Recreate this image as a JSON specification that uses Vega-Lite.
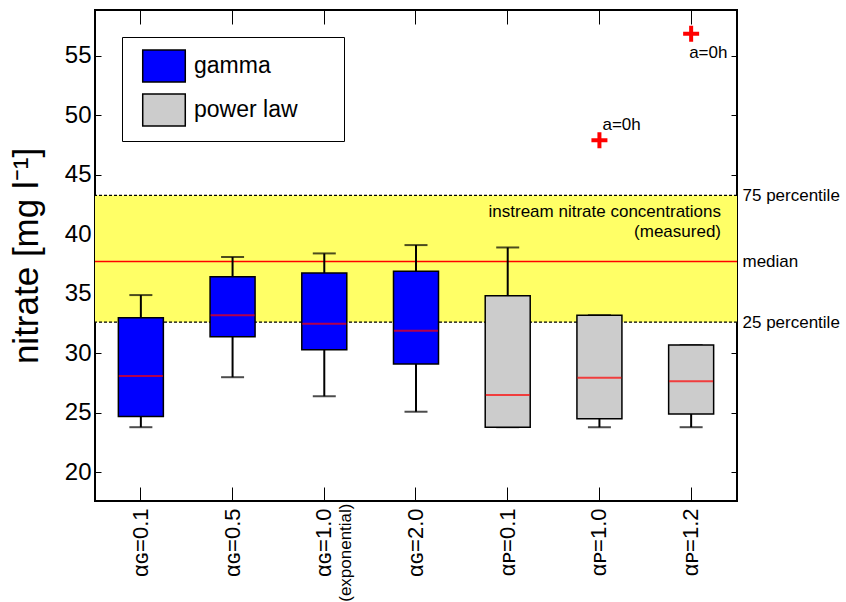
{
  "$schema": "https://vega.github.io/schema/vega-lite/v6.json",
  "autosize": {"type": "none"},
  "width": 642,
  "height": 491,
  "padding": {"left": 95, "top": 10, "right": 109, "bottom": 101},
  "background": "white",
  "config": {
    "view": {"stroke": "black", "strokeWidth": 2},
    "font": "Liberation Sans",
    "axis": {"domain": false, "grid": false, "labelColor": "black", "tickColor": "black", "titleColor": "black", "labelFont": "Liberation Sans", "titleFont": "Liberation Sans", "titleFontWeight": "normal", "labelOverlap": false, "labelBound": false, "labelFlush": false},
    "legend": {"labelFont": "Liberation Sans", "labelColor": "black"}
  },
  "datasets": {
    "boxes": [
      {"cat": "αɢ=0.1", "family": "gamma", "wlow": 23.8, "q1": 24.7, "med": 28.1, "q3": 33.0, "whigh": 34.9},
      {"cat": "αɢ=0.5", "family": "gamma", "wlow": 28.0, "q1": 31.4, "med": 33.2, "q3": 36.45, "whigh": 38.1},
      {"cat": "αɢ=1.0", "family": "gamma", "wlow": 26.4, "q1": 30.3, "med": 32.5, "q3": 36.75, "whigh": 38.4},
      {"cat": "αɢ=2.0", "family": "gamma", "wlow": 25.1, "q1": 29.1, "med": 31.9, "q3": 36.9, "whigh": 39.1},
      {"cat": "αᴘ=0.1", "family": "power law", "wlow": 23.8, "q1": 23.8, "med": 26.5, "q3": 34.85, "whigh": 38.9},
      {"cat": "αᴘ=1.0", "family": "power law", "wlow": 23.8, "q1": 24.5, "med": 27.95, "q3": 33.2, "whigh": 33.2},
      {"cat": "αᴘ=1.2", "family": "power law", "wlow": 23.8, "q1": 24.9, "med": 27.65, "q3": 30.7, "whigh": 30.7}
    ],
    "ref": [{"p25": 32.62, "med": 37.72, "p75": 43.28}],
    "out": [
      {"cat": "αᴘ=1.0", "value": 47.9, "label": "a=0h"},
      {"cat": "αᴘ=1.2", "value": 56.85, "label": "a=0h"}
    ]
  },
  "resolve": {"axis": {"x": "independent", "y": "independent"}},
  "layer": [
    {
      "data": {"name": "ref"},
      "mark": {"type": "rect", "color": "#ffff66"},
      "encoding": {
        "y": {"field": "p25", "type": "quantitative", "scale": {"domain": [17.6, 58.85], "nice": false, "zero": false}, "axis": null},
        "y2": {"field": "p75"}
      }
    },
    {
      "data": {"name": "ref"},
      "mark": {"type": "rule", "color": "black", "strokeWidth": 1.3, "strokeDash": [3, 2]},
      "encoding": {"y": {"field": "p75", "type": "quantitative", "scale": {"domain": [17.6, 58.85], "nice": false, "zero": false}, "axis": null}}
    },
    {
      "data": {"name": "ref"},
      "mark": {"type": "rule", "color": "black", "strokeWidth": 1.3, "strokeDash": [3, 2]},
      "encoding": {"y": {"field": "p25", "type": "quantitative", "scale": {"domain": [17.6, 58.85], "nice": false, "zero": false}, "axis": null}}
    },
    {
      "data": {"name": "ref"},
      "mark": {"type": "rule", "color": "#ff0000", "strokeWidth": 1.3},
      "encoding": {"y": {"field": "med", "type": "quantitative", "scale": {"domain": [17.6, 58.85], "nice": false, "zero": false}, "axis": null}}
    },
    {
      "data": {"name": "ref"},
      "mark": {"type": "text", "text": ["instream nitrate concentrations", "(measured)"], "align": "right", "baseline": "top", "fontSize": 17, "lineHeight": 20, "dx": -16, "dy": 9, "color": "black"},
      "encoding": {
        "x": {"datum": "αᴘ=1.2", "type": "nominal", "bandPosition": 1, "scale": {"domain": ["αɢ=0.1", "αɢ=0.5", "αɢ=1.0", "αɢ=2.0", "αᴘ=0.1", "αᴘ=1.0", "αᴘ=1.2"]}, "axis": null},
        "y": {"field": "p75", "type": "quantitative", "scale": {"domain": [17.6, 58.85], "nice": false, "zero": false}, "axis": null}
      }
    },
    {
      "data": {"name": "boxes"},
      "mark": {"type": "rule", "color": "black", "strokeWidth": 2},
      "encoding": {
        "x": {"field": "cat", "type": "nominal", "scale": {"domain": ["αɢ=0.1", "αɢ=0.5", "αɢ=1.0", "αɢ=2.0", "αᴘ=0.1", "αᴘ=1.0", "αᴘ=1.2"]},
              "axis": {"orient": "top", "labels": false, "tickSize": -14, "title": null, "domain": false}},
        "y": {"field": "wlow", "type": "quantitative", "scale": {"domain": [17.6, 58.85], "nice": false, "zero": false},
              "axis": {"orient": "right", "title": null, "values": [20, 25, 30, 32.62, 35, 37.72, 40, 43.28, 45, 50, 55], "tickSize": -6, "labelPadding": 11, "labelFontSize": 17, "labelAlign": "left", "labelBaseline": "middle",
                       "labelExpr": "datum.value == 43.28 ? '75 percentile' : datum.value == 37.72 ? 'median' : datum.value == 32.62 ? '25 percentile' : ''",
                       "tickOpacity": {"condition": {"test": "datum.value == 32.62 || datum.value == 37.72 || datum.value == 43.28", "value": 0}, "value": 1}}},
        "y2": {"field": "whigh"}
      }
    },
    {
      "data": {"name": "boxes"},
      "mark": {"type": "tick", "color": "black", "size": 23, "thickness": 2},
      "encoding": {
        "x": {"field": "cat", "type": "nominal", "scale": {"domain": ["αɢ=0.1", "αɢ=0.5", "αɢ=1.0", "αɢ=2.0", "αᴘ=0.1", "αᴘ=1.0", "αᴘ=1.2"]}, "axis": null},
        "y": {"field": "wlow", "type": "quantitative", "scale": {"domain": [17.6, 58.85], "nice": false, "zero": false}, "axis": null}
      }
    },
    {
      "data": {"name": "boxes"},
      "mark": {"type": "tick", "color": "black", "size": 23, "thickness": 2},
      "encoding": {
        "x": {"field": "cat", "type": "nominal", "scale": {"domain": ["αɢ=0.1", "αɢ=0.5", "αɢ=1.0", "αɢ=2.0", "αᴘ=0.1", "αᴘ=1.0", "αᴘ=1.2"]}, "axis": null},
        "y": {"field": "whigh", "type": "quantitative", "scale": {"domain": [17.6, 58.85], "nice": false, "zero": false}, "axis": null}
      }
    },
    {
      "data": {"name": "boxes"},
      "mark": {"type": "bar", "size": 45, "stroke": "black", "strokeWidth": 1.5, "opacity": 1},
      "encoding": {
        "x": {"field": "cat", "type": "nominal", "scale": {"domain": ["αɢ=0.1", "αɢ=0.5", "αɢ=1.0", "αɢ=2.0", "αᴘ=0.1", "αᴘ=1.0", "αᴘ=1.2"]},
              "axis": {"orient": "bottom", "title": null, "tickSize": -14, "labelPadding": 21, "labelAngle": -90, "labelAlign": "right", "labelBaseline": "middle", "labelFontSize": 22, "labelLimit": 200}},
        "y": {"field": "q1", "type": "quantitative", "scale": {"domain": [17.6, 58.85], "nice": false, "zero": false},
              "axis": {"orient": "left", "title": "nitrate [mg l⁻¹]", "titleFontSize": 35, "titlePadding": 20, "values": [20, 25, 30, 35, 40, 45, 50, 55], "tickSize": -6, "labelPadding": 10, "labelFontSize": 24}},
        "y2": {"field": "q3"},
        "fill": {"field": "family", "type": "nominal", "scale": {"domain": ["gamma", "power law"], "range": ["#0000ff", "#cccccc"]},
                 "legend": {"orient": "none", "legendX": 27, "legendY": 27, "title": "MMMM", "titleOrient": "right", "titleOpacity": 0, "titleFontSize": 10, "titlePadding": 0, "symbolType": "M-1.33,-1H1.33V1H-1.33Z", "symbolSize": 1024, "symbolOffset": 13, "symbolStrokeColor": "black", "symbolStrokeWidth": 1.5, "symbolOpacity": 1, "labelFontSize": 23, "labelOffset": 13, "rowPadding": 6, "padding": 12, "strokeColor": "black", "fillColor": "white", "labelLimit": 400}}
      }
    },
    {
      "data": {"name": "boxes"},
      "mark": {"type": "tick", "color": "#ff0000", "size": 44, "thickness": 2},
      "encoding": {
        "x": {"field": "cat", "type": "nominal", "scale": {"domain": ["αɢ=0.1", "αɢ=0.5", "αɢ=1.0", "αɢ=2.0", "αᴘ=0.1", "αᴘ=1.0", "αᴘ=1.2"]},
              "axis": {"orient": "bottom", "title": null, "ticks": false, "domain": false, "labelPadding": 2, "labelOffset": 22, "labelAngle": -90, "labelAlign": "right", "labelBaseline": "middle", "labelFontSize": 17, "labelLimit": 200,
                       "labelExpr": "datum.value == 'αɢ=1.0' ? '(exponential)' : ''"}},
        "y": {"field": "med", "type": "quantitative", "scale": {"domain": [17.6, 58.85], "nice": false, "zero": false}, "axis": null}
      }
    },
    {
      "data": {"name": "out"},
      "mark": {"type": "point", "shape": "M-1,-0.25H-0.25V-1H0.25V-0.25H1V0.25H0.25V1H-0.25V0.25H-1Z", "filled": true, "color": "#ff0000", "size": 256, "opacity": 1},
      "encoding": {
        "x": {"field": "cat", "type": "nominal", "scale": {"domain": ["αɢ=0.1", "αɢ=0.5", "αɢ=1.0", "αɢ=2.0", "αᴘ=0.1", "αᴘ=1.0", "αᴘ=1.2"]}, "axis": null},
        "y": {"field": "value", "type": "quantitative", "scale": {"domain": [17.6, 58.85], "nice": false, "zero": false}, "axis": null}
      }
    },
    {
      "data": {"name": "out"},
      "transform": [{"filter": "datum.cat == 'αᴘ=1.0'"}],
      "mark": {"type": "text", "align": "left", "baseline": "middle", "fontSize": 17, "dx": 3, "dy": -15, "color": "black"},
      "encoding": {
        "x": {"field": "cat", "type": "nominal", "scale": {"domain": ["αɢ=0.1", "αɢ=0.5", "αɢ=1.0", "αɢ=2.0", "αᴘ=0.1", "αᴘ=1.0", "αᴘ=1.2"]}, "axis": null},
        "y": {"field": "value", "type": "quantitative", "scale": {"domain": [17.6, 58.85], "nice": false, "zero": false}, "axis": null},
        "text": {"field": "label"}
      }
    },
    {
      "data": {"name": "out"},
      "transform": [{"filter": "datum.cat == 'αᴘ=1.2'"}],
      "mark": {"type": "text", "align": "left", "baseline": "middle", "fontSize": 17, "dx": -2, "dy": 19, "color": "black"},
      "encoding": {
        "x": {"field": "cat", "type": "nominal", "scale": {"domain": ["αɢ=0.1", "αɢ=0.5", "αɢ=1.0", "αɢ=2.0", "αᴘ=0.1", "αᴘ=1.0", "αᴘ=1.2"]}, "axis": null},
        "y": {"field": "value", "type": "quantitative", "scale": {"domain": [17.6, 58.85], "nice": false, "zero": false}, "axis": null},
        "text": {"field": "label"}
      }
    }
  ]
}
